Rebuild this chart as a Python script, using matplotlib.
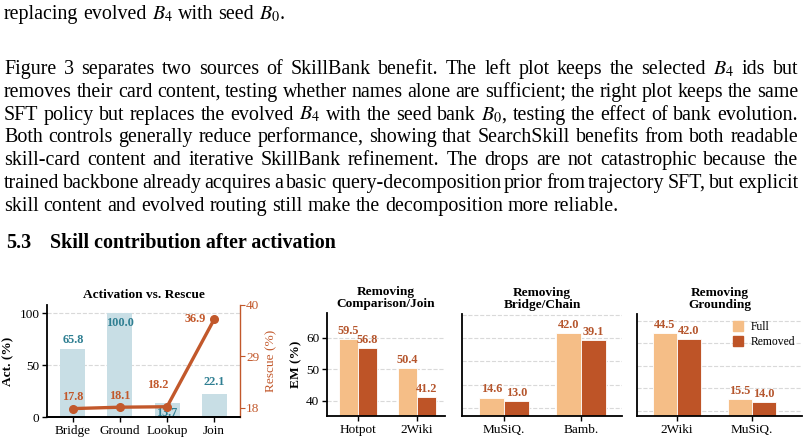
import matplotlib
matplotlib.use("Agg")
import matplotlib.pyplot as plt
from matplotlib.patches import Patch
import numpy as np

# ---- Data ----
act_cats = ["Bridge", "Ground", "Lookup", "Join"]
act_vals = [65.8, 100.0, 13.7, 22.1]
rescue_vals = [17.8, 18.1, 18.2, 36.9]

cmp_cats = ["Hotpot", "2Wiki"]
cmp_full = [59.5, 50.4]
cmp_removed = [56.8, 41.2]

bridge_cats = ["MuSiQ.", "Bamb."]
bridge_full = [14.6, 42.0]
bridge_removed = [13.0, 39.1]

ground_cats = ["2Wiki", "MuSiQ."]
ground_full = [44.5, 15.5]
ground_removed = [42.0, 14.0]

prev_line = "replacing evolved $B_4$ with seed $B_0$."
para_lines = [
    "Figure 3 separates two sources of SkillBank benefit.  The left plot keeps the selected $B_4$ ids but",
    "removes their card content, testing whether names alone are sufficient; the right plot keeps the same",
    "SFT policy but replaces the evolved $B_4$ with the seed bank $B_0$, testing the effect of bank evolution.",
    "Both controls generally reduce performance, showing that SearchSkill benefits from both readable",
    "skill-card content and iterative SkillBank refinement.  The drops are not catastrophic because the",
    "trained backbone already acquires a basic query-decomposition prior from trajectory SFT, but explicit",
    "skill content and evolved routing still make the decomposition more reliable.",
]
heading_num = "5.3"
heading_txt = "Skill contribution after activation"

# ---- Style ----
plt.rcParams["font.family"] = ["Liberation Serif", "DejaVu Serif"]
plt.rcParams["mathtext.fontset"] = "stix"
plt.rcParams["axes.linewidth"] = 1.3

W, H = 807, 445
C_FULL = "#F5BE87"
C_REM = "#BE5427"
C_LBL = "#B5552C"
C_BLUE = "#C8DEE5"
C_TEAL = "#2F7F92"
C_LINE = "#C2582B"
C_GRID = "#D9D9D9"
TXT = 14.4

fig = plt.figure(figsize=(W / 100, H / 100), dpi=100)
renderer = fig.canvas.get_renderer()


def fx(x):
    return x / W


def fy(y):
    return 1 - y / H


def put_line(text, y, x0=4, x1=798, justify=True, **kw):
    words = text.split()
    objs = [fig.text(0, fy(y), w, fontsize=TXT, va="baseline", **kw) for w in words]
    widths = [o.get_window_extent(renderer).width for o in objs]
    if justify and len(words) > 1:
        gap = (x1 - x0 - sum(widths)) / (len(words) - 1)
    else:
        gap = 0.25 * TXT * 100 / 72
    x = x0
    for o, w in zip(objs, widths):
        o.set_x(fx(x))
        x += w + gap


put_line(prev_line, 19, justify=False)
for i, line in enumerate(para_lines):
    put_line(line, 74 + i * 22.8, justify=(i < len(para_lines) - 1))

fig.text(fx(6), fy(248), heading_num, fontsize=14.4, fontweight="bold", va="baseline")
fig.text(fx(50), fy(248), heading_txt, fontsize=14.4, fontweight="bold", va="baseline")


def make_ax(left, right, top, bottom):
    return fig.add_axes([fx(left), fy(bottom), fx(right - left), (bottom - top) / H])


def style_ax(ax):
    ax.spines["top"].set_visible(False)
    ax.spines["right"].set_visible(False)
    ax.grid(axis="y", color=C_GRID, linestyle="--", linewidth=0.8)
    ax.set_axisbelow(True)
    ax.tick_params(labelsize=9.5, length=3.5, width=1.0, pad=2)


# ---- Panel 1: activation vs rescue ----
ax1 = make_ax(47, 240, 305, 417)
style_ax(ax1)
x = np.arange(len(act_cats))
ax1.bar(x, act_vals, width=0.53, color=C_BLUE, zorder=2)
ax1.set_ylim(0, 108)
ax1.set_xlim(-0.55, 3.55)
ax1.set_yticks([0, 50, 100])
ax1.set_xticks(x)
ax1.set_xticklabels(act_cats)
ax1.set_ylabel("Act. (%)", fontsize=9.6, fontweight="bold", labelpad=4)
ax1.set_title("Activation vs. Rescue", fontsize=9.6, fontweight="bold", pad=5)
act_off = [8.4, -9.3, -9.8, 11.8]
for xi, v, o in zip(x, act_vals, act_off):
    ax1.text(xi, v + o, f"{v:.1f}", ha="center", va="center", color=C_TEAL,
             fontsize=8.8, fontweight="bold", zorder=3)

ax1r = ax1.twinx()
ax1r.plot(x, rescue_vals, color=C_LINE, linewidth=2.4, marker="o", markersize=5.5, zorder=4)
ax1r.set_ylim(16, 40)
ax1r.set_yticks([18, 29, 40])
ax1r.spines["top"].set_visible(False)
ax1r.spines["left"].set_visible(False)
ax1r.spines["right"].set_color(C_LINE)
ax1r.spines["right"].set_linewidth(1.0)
ax1r.tick_params(axis="y", colors=C_LINE, labelsize=9.5, length=3.5, pad=1)
ax1r.set_ylabel("Rescue (%)", fontsize=9.6, color=C_LINE, labelpad=4)
resc_off = [(0, 8), (0, 8), (-7, 16), (-6, 0)]
resc_ha = ["center", "center", "center", "right"]
for xi, v, o, ha in zip(x, rescue_vals, resc_off, resc_ha):
    ax1r.annotate(f"{v:.1f}", (xi, v), xytext=o, textcoords="offset points",
                  ha=ha, va="center", color=C_LINE, fontsize=8.8, fontweight="bold")


# ---- Panels 2-4: removal bars ----
def removal(ax, cats, full, rem, title, ylim, xlim, yticks, show_y):
    style_ax(ax)
    xs = np.arange(len(cats))
    w = 0.32
    ax.bar(xs - w / 2, full, width=w, color=C_FULL, edgecolor="white", linewidth=0.6, zorder=2)
    ax.bar(xs + w / 2, rem, width=w, color=C_REM, edgecolor="white", linewidth=0.6, zorder=2)
    for xi, a, b in zip(xs, full, rem):
        ax.annotate(f"{a:.1f}", (xi - w / 2, a), xytext=(0, 1.5), textcoords="offset points",
                    ha="center", va="bottom", color=C_LBL, fontsize=8.8, fontweight="bold")
        ax.annotate(f"{b:.1f}", (xi + w / 2, b), xytext=(0, 1.5), textcoords="offset points",
                    ha="center", va="bottom", color=C_LBL, fontsize=8.8, fontweight="bold")
    ax.set_xticks(xs)
    ax.set_xticklabels(cats)
    ax.set_ylim(*ylim)
    ax.set_xlim(*xlim)
    ax.set_yticks(yticks)
    if not show_y:
        ax.tick_params(axis="y", left=False, labelleft=False)
    ax.set_title(title, fontsize=9.6, fontweight="bold", pad=4, linespacing=1.0)


ax2 = make_ax(327, 445, 313, 416)
removal(ax2, cmp_cats, cmp_full, cmp_removed, "Removing\nComparison/Join",
        (35.2, 67.8), (-0.52, 1.48), [40, 50, 60], True)
ax2.set_ylabel("EM (%)", fontsize=9.6, fontweight="bold", labelpad=3)

ax3 = make_ax(462, 622, 314, 416)
removal(ax3, bridge_cats, bridge_full, bridge_removed, "Removing\nBridge/Chain",
        (6.7, 50.3), (-0.545, 1.53), [10, 20, 30, 40, 50], False)

ax4 = make_ax(637, 802, 314, 416)
removal(ax4, ground_cats, ground_full, ground_removed, "Removing\nGrounding",
        (7.8, 53.0), (-0.533, 1.667), [10, 20, 30, 40, 50], False)
ax4.legend(handles=[Patch(color=C_FULL, label="Full"), Patch(color=C_REM, label="Removed")],
           loc="upper right", frameon=False, fontsize=8.4, handlelength=0.9, handleheight=0.9,
           handletextpad=0.6, borderaxespad=0.2, labelspacing=0.25)

fig.savefig("out.png", dpi=100)
